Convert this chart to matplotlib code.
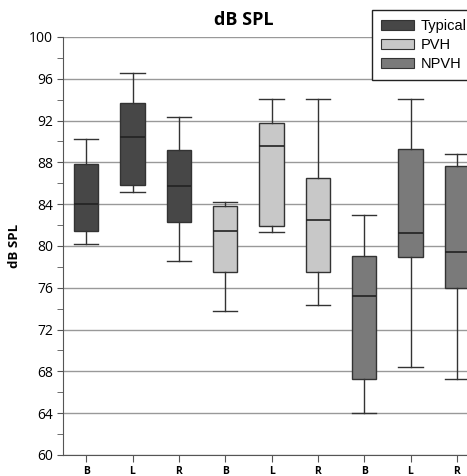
import matplotlib
matplotlib.use("Agg")
import matplotlib.pyplot as plt
from matplotlib.patches import Patch
from matplotlib.ticker import MultipleLocator

plt.rcParams['font.family'] = ['Open Sans', 'DejaVu Sans']

categories = ["B", "L", "R", "B", "L", "R", "B", "L", "R"]
groups = ["Typical", "Typical", "Typical", "PVH", "PVH", "PVH", "NPVH", "NPVH", "NPVH"]
whislo = [80.2, 85.2, 78.6, 73.8, 81.3, 74.4, 64.0, 68.4, 67.3]
q1 =     [81.4, 85.8, 82.3, 77.5, 81.9, 77.5, 67.3, 78.9, 76.0]
med =    [84.0, 90.4, 85.7, 81.4, 89.6, 82.5, 75.2, 81.2, 79.4]
q3 =     [87.8, 93.7, 89.2, 83.8, 91.8, 86.5, 79.0, 89.3, 87.7]
whishi = [90.2, 96.6, 92.3, 84.2, 94.1, 94.1, 83.0, 94.1, 88.8]

group_names = ["Typical", "PVH", "NPVH"]
group_colors = {"Typical": "#474747", "PVH": "#c8c8c8", "NPVH": "#7a7a7a"}

fig = plt.figure(figsize=(4.67, 4.76), dpi=100)
ax = fig.add_axes([63/467, 21/476, (480-63)/467, (455-37)/476])

stats = []
for i in range(len(categories)):
    stats.append(dict(whislo=whislo[i], q1=q1[i], med=med[i], q3=q3[i], whishi=whishi[i], fliers=[]))

bp = ax.bxp(stats, positions=range(len(categories)), widths=0.52, patch_artist=True,
            showfliers=False,
            boxprops=dict(edgecolor="#333333", linewidth=1.0),
            medianprops=dict(color="#222222", linewidth=1.2),
            whiskerprops=dict(color="#333333", linewidth=1.0),
            capprops=dict(color="#333333", linewidth=1.0), capwidths=0.52,
            zorder=3)
for patch, g in zip(bp['boxes'], groups):
    patch.set_facecolor(group_colors[g])

ax.set_xlim(-0.5, 8.5)
ax.set_ylim(60, 100)
ax.yaxis.set_major_locator(MultipleLocator(4))
ax.yaxis.set_minor_locator(MultipleLocator(2))
ax.grid(axis='y', which='major', color="#999999", linewidth=1.0, zorder=0)
ax.set_axisbelow(True)
ax.set_xticks(range(len(categories)))
ax.set_xticklabels(categories, fontweight='bold', fontsize=7.5)
ax.tick_params(axis='y', which='major', labelsize=10, length=4, color="#555555", pad=3)
ax.tick_params(axis='y', which='minor', length=4, color="#555555")
ax.tick_params(axis='x', length=5, color="#555555", pad=3)
for s in ['top', 'right']:
    ax.spines[s].set_visible(False)
for s in ['left', 'bottom']:
    ax.spines[s].set_color("#555555")
ax.set_ylabel("dB SPL", fontweight='bold', fontsize=9.5, labelpad=6)

fig.text(244/467, 1 - 20/476, "dB SPL", ha='center', va='center', fontweight='bold', fontsize=13)

handles = [Patch(facecolor=group_colors[g], edgecolor="#333333", linewidth=0.8) for g in group_names]
leg = fig.legend(handles, group_names, loc='upper left', bbox_to_anchor=(372/467, 1 - 10/476),
                 fancybox=False, framealpha=1, edgecolor="#222222",
                 prop={'family': 'Liberation Sans', 'size': 10.5},
                 handlelength=2.2, handleheight=0.7, labelspacing=0.32, borderpad=0.65,
                 handletextpad=0.5, borderaxespad=0)
leg.get_frame().set_linewidth(1.0)

fig.savefig("out.png", dpi=100)
